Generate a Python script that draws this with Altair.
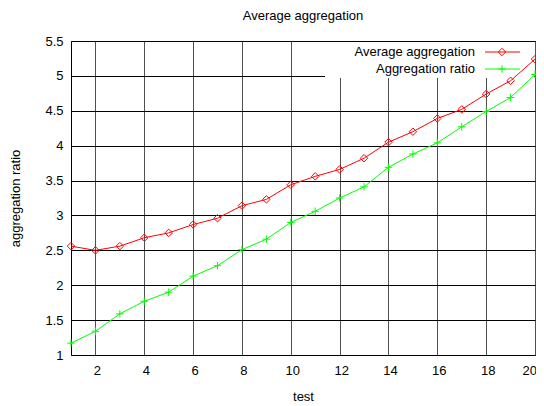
import altair as alt
import pandas as pd

# ---- data ----
tests = list(range(1, 21))
avg_aggregation = [2.56, 2.50, 2.56, 2.68, 2.75, 2.87, 2.96, 3.14, 3.23, 3.44,
                   3.56, 3.66, 3.82, 4.05, 4.20, 4.39, 4.52, 4.74, 4.93, 5.24]
aggregation_ratio = [1.17, 1.34, 1.59, 1.77, 1.90, 2.13, 2.28, 2.51, 2.66, 2.90,
                     3.06, 3.25, 3.41, 3.69, 3.88, 4.04, 4.27, 4.49, 4.69, 5.02]
series_names = ["Average aggregation", "Aggregation ratio"]
series_colors = ["#ff0000", "#00ff00"]
plus_path = "M-1,0L1,0M0,-1L0,1"
series_shapes = ["diamond", plus_path]
x_ticks = list(range(2, 21, 2))
y_ticks = [1, 1.5, 2, 2.5, 3, 3.5, 4, 4.5, 5, 5.5]

FONT = "Liberation Sans"
W, H = 464, 314

df = pd.DataFrame({
    "test": tests + tests,
    "value": avg_aggregation + aggregation_ratio,
    "series": [series_names[0]] * len(tests) + [series_names[1]] * len(tests),
})

x_enc = alt.X(
    "test:Q",
    scale=alt.Scale(domain=[1, 20], nice=False, zero=False),
    axis=alt.Axis(
        values=x_ticks, title="test", grid=True, gridColor="#505050", gridWidth=1,
        domain=False, ticks=True, tickSize=0, labelPadding=19,
        labelBaseline="alphabetic", labelFlush=True, labelFlushOffset=0,
        labelOverlap=False, labelOffset=1.5, titleX=W / 2, titleY=45,
        titleBaseline="alphabetic", titleAlign="center",
    ),
)
y_enc = alt.Y(
    "value:Q",
    scale=alt.Scale(domain=[1, 5.5], nice=False, zero=False),
    axis=alt.Axis(
        values=y_ticks, format="~g", title="aggregation ratio", grid=True,
        gridColor="#000000", gridWidth=1, domain=False, ticks=True, tickSize=0,
        labelPadding=8, labelFlush=False, labelOverlap=False,
        titleX=-56, titleY=H / 2, titleAngle=270, titleAlign="center",
        titleBaseline="middle",
    ),
)

color_enc = alt.Color("series:N", scale=alt.Scale(domain=series_names, range=series_colors), legend=None)
shape_enc = alt.Shape("series:N", scale=alt.Scale(domain=series_names, range=series_shapes), legend=None)

base = alt.Chart(df)
lines = base.mark_line(strokeWidth=1).encode(x=x_enc, y=y_enc, color=color_enc, detail="series:N")
points = base.mark_point(filled=False, size=56, strokeWidth=1, opacity=1).encode(
    x=x_enc, y=y_enc, color=color_enc, shape=shape_enc)

# white key box (covers the grid like gnuplot's key)
box = alt.Chart(pd.DataFrame({"k": [0]})).mark_rect(color="white").encode(
    x=alt.value(254), x2=alt.value(463), y=alt.value(1), y2=alt.value(37))

legend_df = pd.DataFrame({"series": series_names})
legend_rows_y = [11, 28]
legend_layers = []
for name, col, shp, ly in zip(series_names, series_colors, series_shapes, legend_rows_y):
    lb = alt.Chart(legend_df).transform_filter(alt.datum.series == name)
    legend_layers.append(lb.mark_text(align="right", baseline="middle", font=FONT,
                                      fontSize=13, color="black").encode(
        text="series:N", x=alt.value(404), y=alt.value(ly)))
    legend_layers.append(lb.mark_rule(color=col, strokeWidth=1).encode(
        x=alt.value(414), x2=alt.value(449), y=alt.value(ly)))
    legend_layers.append(lb.mark_point(shape=shp, filled=False, size=56, strokeWidth=1,
                                       color=col, opacity=1).encode(
        x=alt.value(431), y=alt.value(ly)))

chart = alt.layer(box, lines, points, *legend_layers).properties(
    width=W, height=H,
    title=alt.TitleParams("Average aggregation", font=FONT, fontSize=13, fontWeight="normal",
                          color="black", anchor="middle", frame="group",
                          baseline="alphabetic", offset=2),
    autosize=alt.AutoSizeParams(type="none"),
    padding={"left": 63, "top": 33, "right": 1, "bottom": 50},
).configure_view(stroke="black", strokeWidth=1).configure_axis(
    labelFont=FONT, labelFontSize=13, labelColor="black",
    titleFont=FONT, titleFontSize=13, titleFontWeight="normal", titleColor="black",
)

chart.save("out.html", embed_options={"renderer": "svg", "actions": False})
